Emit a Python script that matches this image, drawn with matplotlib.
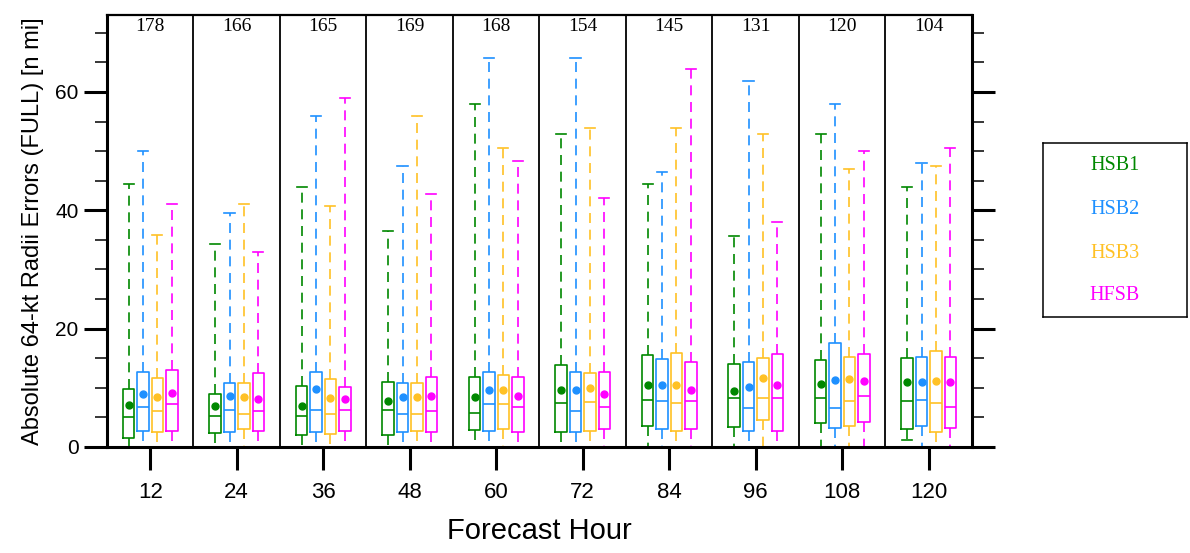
import matplotlib
matplotlib.use('Agg')
import matplotlib.pyplot as plt

hours = [12, 24, 36, 48, 60, 72, 84, 96, 108, 120]
counts = [178, 166, 165, 169, 168, 154, 145, 131, 120, 104]
models = ['HSB1', 'HSB2', 'HSB3', 'HFSB']
colors = ['#008800', '#1E90FF', '#FFC125', '#FF00FF']

# box stats (n mi)
hsb1_q1 = [1.6, 2.3, 2.0, 2.0, 2.8, 2.5, 3.5, 3.3, 4.0, 3.0]
hsb1_med = [5.0, 5.3, 5.3, 6.3, 5.8, 7.5, 8.0, 8.3, 8.3, 7.8]
hsb1_q3 = [9.8, 9.0, 10.3, 11.0, 11.8, 13.8, 15.6, 14.0, 14.7, 15.1]
hsb1_mean = [7.1, 7.0, 7.0, 7.8, 8.4, 9.6, 10.4, 9.5, 10.7, 10.9]
hsb1_hi = [44.5, 34.3, 44.0, 36.5, 58.0, 52.9, 44.5, 35.6, 52.9, 44.0]
hsb1_lo = [0, 0, 0, 0, 0, 0, 0, 0, 0, 1.1]

hsb2_q1 = [2.75, 2.5, 2.5, 2.5, 2.75, 2.5, 3.0, 2.75, 3.25, 3.5]
hsb2_med = [6.8, 6.3, 6.3, 5.5, 7.3, 6.1, 7.8, 6.6, 6.6, 8.0]
hsb2_q3 = [12.75, 10.8, 12.75, 10.8, 12.75, 12.75, 14.8, 14.4, 17.5, 15.2]
hsb2_mean = [8.9, 8.6, 9.8, 8.5, 9.55, 9.55, 10.4, 10.2, 11.35, 10.9]
hsb2_hi = [50.1, 39.5, 55.9, 47.5, 65.8, 65.8, 46.4, 61.9, 58.0, 48.0]
hsb2_lo = [0, 0, 0, 0, 0, 0, 0, 0, 0, 0]

hsb3_q1 = [2.5, 3.0, 2.25, 2.75, 3.0, 2.75, 2.75, 4.55, 3.5, 2.5]
hsb3_med = [6.1, 5.5, 5.6, 5.5, 7.3, 7.6, 7.5, 8.3, 7.8, 7.5]
hsb3_q3 = [11.7, 10.8, 11.5, 10.8, 12.1, 12.5, 15.8, 15.0, 15.2, 16.2]
hsb3_mean = [8.5, 8.5, 8.3, 8.5, 9.7, 9.9, 10.4, 11.6, 11.5, 11.1]
hsb3_hi = [35.9, 41.0, 40.7, 56.0, 50.5, 53.9, 53.9, 52.9, 47.0, 47.4]
hsb3_lo = [0, 0, 0, 0, 0, 0, 0, 0, 0, 0]

hfsb_q1 = [2.75, 2.75, 2.75, 2.5, 2.5, 3.0, 3.0, 2.75, 4.3, 3.25]
hfsb_med = [7.25, 6.1, 6.3, 6.1, 6.8, 6.8, 7.8, 8.3, 8.6, 6.8]
hfsb_q3 = [13.0, 12.5, 10.2, 11.8, 11.8, 12.75, 14.3, 15.7, 15.7, 15.2]
hfsb_mean = [9.2, 8.1, 8.1, 8.65, 8.65, 8.9, 9.6, 10.4, 11.2, 10.9]
hfsb_hi = [41.1, 33.0, 58.9, 42.7, 48.4, 42.0, 63.9, 38.0, 50.0, 50.5]
hfsb_lo = [0, 0, 0, 0, 0, 0, 0, 0, 0, 0]

stats_by_model = [
    (hsb1_q1, hsb1_med, hsb1_q3, hsb1_mean, hsb1_lo, hsb1_hi),
    (hsb2_q1, hsb2_med, hsb2_q3, hsb2_mean, hsb2_lo, hsb2_hi),
    (hsb3_q1, hsb3_med, hsb3_q3, hsb3_mean, hsb3_lo, hsb3_hi),
    (hfsb_q1, hfsb_med, hfsb_q3, hfsb_mean, hfsb_lo, hfsb_hi),
]
offsets = [-3, -1, 1, 3]

plt.rcParams['font.family'] = ['Liberation Sans', 'DejaVu Sans']

fig = plt.figure(figsize=(11.9, 5.53), dpi=100)
ax = fig.add_axes([0.0899, 0.1917, 0.7269, 0.7812])

for m, (q1, med, q3, mean, lo, hi) in enumerate(stats_by_model):
    c = colors[m]
    bstats = []
    for i in range(len(hours)):
        bstats.append({'q1': q1[i], 'med': med[i], 'q3': q3[i], 'mean': mean[i],
                       'whislo': lo[i], 'whishi': hi[i], 'fliers': []})
    pos = [h + offsets[m] for h in hours]
    art = ax.bxp(bstats, positions=pos, widths=1.6, capwidths=1.4, showmeans=True,
                 showfliers=False, manage_ticks=False,
                 boxprops=dict(color=c, lw=1.2),
                 medianprops=dict(color=c, lw=1.2),
                 whiskerprops=dict(color=c, lw=1.2, linestyle=(0, (6, 4))),
                 capprops=dict(color=c, lw=1.2),
                 meanprops=dict(marker='o', markerfacecolor=c, markeredgecolor=c, markersize=5))
    # lower caps sitting on zero are hidden in the original
    for i in range(len(hours)):
        if lo[i] == 0:
            art['caps'][2 * i].set_visible(False)

# group separators
for h in hours[:-1]:
    ax.axvline(h + 6, color='black', lw=1.3, zorder=1)

for h, n in zip(hours, counts):
    ax.text(h, 71.1, str(n), ha='center', va='center', fontsize=14,
            family='Liberation Serif')

ax.set_xlim(6, 126)
ax.set_ylim(0, 73)
ax.set_xticks(hours)
ax.set_xticklabels([str(h) for h in hours], fontsize=16)
ax.set_yticks([0, 20, 40, 60])
ax.set_yticks(range(5, 75, 5), minor=True)
ax.tick_params(axis='y', which='major', direction='out', length=16.5, width=2.2,
               labelsize=15, right=True, pad=4)
ax.tick_params(axis='y', which='minor', direction='out', length=8.6, width=1.1, right=True)
ax.tick_params(axis='x', which='major', direction='out', length=16.5, width=2.2, pad=9)
ax.tick_params(axis='x', which='minor', bottom=False, top=False)
for side in ['left', 'right', 'bottom']:
    ax.spines[side].set_linewidth(2.2)
ax.spines['top'].set_linewidth(1.6)

ax.set_ylabel('Absolute 64-kt Radii Errors (FULL) [n mi]', fontsize=17, labelpad=8)
ax.set_xlabel('Forecast Hour', fontsize=21, labelpad=10)

# legend box
lax = fig.add_axes([1043 / 1190, 1 - 317 / 553, 144 / 1190, 174 / 553])
lax.set_xticks([])
lax.set_yticks([])
for s in lax.spines.values():
    s.set_linewidth(1.1)
leg_y = [166, 210, 253, 296]
for name, c, yy in zip(models, colors, leg_y):
    fig.text(1115 / 1190, 1 - yy / 553, name, color=c, ha='center', va='center',
             fontsize=14.5, family='Liberation Serif')

fig.savefig('out.png', dpi=100)
